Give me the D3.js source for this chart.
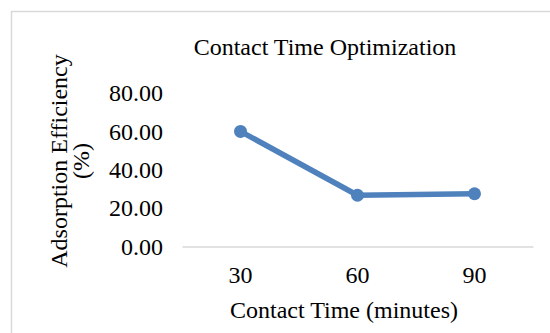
<!DOCTYPE html>
<html>
<head>
<meta charset="utf-8">
<script src="https://cdn.jsdelivr.net/npm/d3@7"></script>
<style>
  html, body { margin: 0; padding: 0; background: #fff; }
  svg { display: block; font-family: "Liberation Serif", "Times New Roman", serif; }
</style>
</head>
<body>
<svg id="chart" width="550" height="333"></svg>
<script>
// Contact time (minutes) vs adsorption efficiency (%)
const categories = ["30", "60", "90"];
const efficiency = [60.0, 26.7, 27.5];
const yTicks = [0, 20, 40, 60, 80];

const chartTitle = "Contact Time Optimization";
const xTitle = "Contact Time (minutes)";
const yTitleLines = ["Adsorption Efficiency", "(%)"];

const svg = d3.select("#chart");
const W = 550, H = 333;
const plot = { left: 182, right: 533, top: 93, bottom: 246.5 };
const lineColor = "#4f81bd";
const fontSize = 24;

// chart area frame
svg.append("rect")
  .attr("x", 11.5).attr("y", 11.5)
  .attr("width", W + 10).attr("height", H + 10)
  .attr("fill", "#fff")
  .attr("stroke", "#d9d9d9")
  .attr("stroke-width", 1.5);

const x = d3.scaleBand().domain(categories).range([plot.left, plot.right]);
const y = d3.scaleLinear().domain([0, 80]).range([plot.bottom, plot.top]);

// y axis labels only
const yAxis = d3.axisLeft(y).tickValues(yTicks).tickFormat(d3.format(".2f")).tickSize(0).tickPadding(0);
const gy = svg.append("g").attr("transform", `translate(${163},0)`).call(yAxis);
gy.select(".domain").remove();
gy.selectAll("text").attr("font-size", fontSize).attr("font-family", "Liberation Serif").attr("fill", "#000");

// x axis: category baseline and labels
const xAxis = d3.axisBottom(x).tickSize(0).tickPadding(19);
const gx = svg.append("g").attr("transform", `translate(0,${plot.bottom})`).call(xAxis);
gx.select(".domain").attr("stroke", "#d9d9d9").attr("stroke-width", 1.5);
gx.selectAll("text").attr("font-size", fontSize).attr("font-family", "Liberation Serif").attr("fill", "#000");

// series line
const pts = categories.map((c, i) => ({ c, v: efficiency[i] }));
svg.append("path")
  .datum(pts)
  .attr("fill", "none")
  .attr("stroke", lineColor)
  .attr("stroke-width", 5.5)
  .attr("stroke-linejoin", "round")
  .attr("d", d3.line().x(d => x(d.c) + x.bandwidth() / 2).y(d => y(d.v)));

svg.selectAll("circle.pt").data(pts).join("circle")
  .attr("class", "pt")
  .attr("cx", d => x(d.c) + x.bandwidth() / 2)
  .attr("cy", d => y(d.v))
  .attr("r", 6.5)
  .attr("fill", lineColor);

// titles
svg.append("text")
  .attr("x", 325).attr("y", 55)
  .attr("text-anchor", "middle")
  .attr("font-size", fontSize)
  .text(chartTitle);

svg.append("text")
  .attr("x", 344).attr("y", 318)
  .attr("text-anchor", "middle")
  .attr("font-size", fontSize)
  .text(xTitle);

const yt = svg.append("text")
  .attr("transform", "translate(67,161) rotate(-90)")
  .attr("text-anchor", "middle")
  .attr("font-size", fontSize);
yt.append("tspan").attr("x", 0).attr("dy", 0).text(yTitleLines[0]);
yt.append("tspan").attr("x", 0).attr("dy", 22).text(yTitleLines[1]);
</script>
</body>
</html>
